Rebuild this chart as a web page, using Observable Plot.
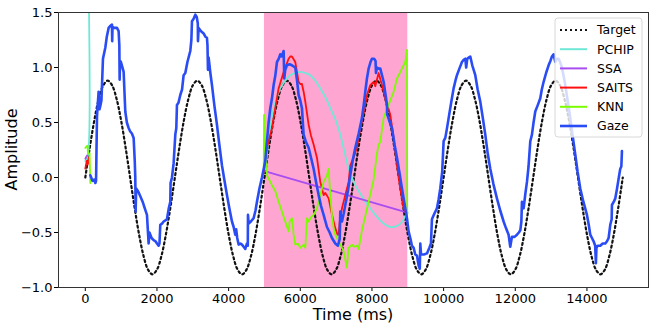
<!DOCTYPE html>
<html><head><meta charset="utf-8">
<script src="https://cdn.jsdelivr.net/npm/d3@7"></script>
<script src="https://cdn.jsdelivr.net/npm/@observablehq/plot@0.6"></script>
<style>body{margin:0;background:#fff;} svg{display:block}</style>
</head><body><div id="chart"></div>
<script>
// ---- data ----
const xTicks = [0, 2000, 4000, 6000, 8000, 10000, 12000, 14000];
const yTicks = [-1, -0.5, 0, 0.5, 1, 1.5];
const xDomain = [-748, 15718];
const yDomain = [-1, 1.5];
const gapStart = [5000];
const gapEnd = [9000];
const seriesNames = ["Target", "PCHIP", "SSA", "SAITS", "KNN", "Gaze"];
const seriesColors = ["#111111", "#6fe8d8", "#a84ef0", "#ff1010", "#7cfc00", "#2a4cf5"];

const targetStep = 125; // ms between target samples
const targetValues = [
  0, .272, .517, .712, .837, .88, .837, .712, .517, .272, 0, -.272, -.517, -.712, -.837, -.88, -.837, -.712, -.517, -.272,
  0, .272, .517, .712, .837, .88, .837, .712, .517, .272, 0, -.272, -.517, -.712, -.837, -.88, -.837, -.712, -.517, -.272,
  0, .272, .517, .712, .837, .88, .837, .712, .517, .272, 0, -.272, -.517, -.712, -.837, -.88, -.837, -.712, -.517, -.272,
  0, .272, .517, .712, .837, .88, .837, .712, .517, .272, 0, -.272, -.517, -.712, -.837, -.88, -.837, -.712, -.517, -.272,
  0, .272, .517, .712, .837, .88, .837, .712, .517, .272, 0, -.272, -.517, -.712, -.837, -.88, -.837, -.712, -.517, -.272,
  0, .272, .517, .712, .837, .88, .837, .712, .517, .272, 0, -.272, -.517, -.712, -.837, -.88, -.837, -.712, -.517, -.272,
  0
];

const pchipStart = [[0, 0.15], [70, 0.2], [75, 2.0]];
const pchipGap = [[4980, 0.05], [5023, 0.08], [5100, 0.30], [5180, 0.50], [5256, 0.63], [5350, 0.73], [5442, 0.81],
  [5580, 0.88], [5721, 0.93], [5860, 0.95], [6000, 0.96], [6140, 0.95], [6279, 0.93], [6420, 0.88], [6558, 0.81],
  [6700, 0.73], [6837, 0.63], [6977, 0.53], [7070, 0.44], [7163, 0.33], [7256, 0.20], [7349, 0.08], [7440, 0.0],
  [7535, -0.07], [7680, -0.15], [7814, -0.22], [7950, -0.28], [8093, -0.34], [8230, -0.39], [8372, -0.43],
  [8500, -0.45], [8605, -0.45], [8700, -0.44], [8791, -0.42], [8870, -0.39], [8930, -0.35], [8990, -0.32]];

const ssaStart = [[0, 0.17], [50, 0.2]];
const ssaGap = [[4980, 0.06], [8990, -0.32]];

const saitsStart = [[0, 0.08], [40, 0.15], [70, 0.12], [100, 0.18]];
const saitsGap = [[4980, 0.05], [5070, 0.27], [5209, 0.45], [5302, 0.63], [5395, 0.81], [5535, 0.96], [5674, 1.08],
  [5720, 1.10], [5767, 1.10], [5860, 1.05], [5953, 0.87], [6000, 0.85], [6046, 0.85], [6093, 0.78], [6140, 0.69],
  [6233, 0.48], [6300, 0.38], [6372, 0.30], [6465, 0.18], [6558, -0.04], [6651, -0.16], [6698, -0.14], [6791, -0.19],
  [6884, -0.34], [6977, -0.46], [7040, -0.52], [7070, -0.52], [7100, -0.40], [7163, -0.28], [7256, -0.16],
  [7349, -0.04], [7395, 0.11], [7488, 0.18], [7581, 0.27], [7650, 0.40], [7721, 0.51], [7860, 0.75], [7953, 0.84],
  [8047, 0.87], [8093, 0.83], [8186, 0.95], [8279, 0.84], [8372, 0.72], [8512, 0.57], [8605, 0.36], [8698, 0.11],
  [8791, -0.10], [8884, -0.28], [8977, -0.34]];

const knnStart = [[0, 0.27], [60, 0.29], [75, 0.22], [120, 0.22], [140, -0.05]];
const knnGap = [[4980, 0.10], [4990, 0.57], [5023, 0.27], [5070, 0.02], [5130, -0.02], [5209, -0.07], [5300, -0.12],
  [5395, -0.22], [5488, -0.31], [5581, -0.40], [5674, -0.49], [5700, -0.40], [5767, -0.37], [5814, -0.52],
  [5860, -0.61], [5930, -0.60], [6000, -0.64], [6093, -0.61], [6140, -0.64], [6186, -0.37], [6233, -0.40],
  [6300, -0.36], [6372, -0.34], [6465, -0.28], [6558, -0.16], [6651, -0.04], [6744, 0.02], [6791, 0.08],
  [6837, -0.16], [6884, -0.34], [6930, -0.46], [6977, -0.52], [7070, -0.58], [7209, -0.67], [7302, -0.82],
  [7349, -0.64], [7442, -0.61], [7488, -0.63], [7581, -0.62], [7628, -0.65], [7721, -0.48], [7814, -0.35],
  [7907, -0.22], [8047, -0.02], [8140, 0.22], [8186, 0.30], [8230, 0.32], [8326, 0.54], [8465, 0.66], [8605, 0.78],
  [8698, 0.90], [8837, 0.99], [8930, 1.05], [8977, 1.16], [8985, -0.34]];

const gaze = [[140, 0.02], [200, -0.03], [250, -0.02], [280, -0.05], [300, -0.03], [326, 0.55], [340, 0.63],
  [372, 0.78], [395, 0.62], [419, 0.65], [450, 0.70], [493, 1.08], [558, 1.18], [600, 1.28], [651, 1.36],
  [700, 1.38], [744, 1.39], [750, 1.24], [760, 1.37], [800, 1.36], [884, 1.36], [930, 1.33], [950, 1.2],
  [958, 0.89], [970, 1.06], [995, 1.05], [1070, 0.96], [1116, 0.60], [1160, 0.5], [1209, 0.45], [1250, 0.42],
  [1300, 0.40], [1349, 0.36], [1380, 0.15], [1395, 0.0], [1405, -0.31], [1420, -0.10], [1480, -0.13],
  [1535, -0.17], [1600, -0.22], [1660, -0.28], [1721, -0.34], [1767, -0.60], [1790, -0.50], [1850, -0.55],
  [1907, -0.57], [1960, -0.58], [2000, -0.60], [2046, -0.62], [2070, -0.60], [2093, -0.43], [2140, -0.42],
  [2186, -0.40], [2279, -0.38], [2330, -0.28], [2372, -0.22], [2380, -0.05], [2419, 0.0], [2465, 0.13],
  [2512, 0.39], [2540, 0.45], [2558, 0.66], [2600, 0.68], [2651, 0.75], [2700, 0.80], [2744, 0.93], [2791, 0.95],
  [2850, 1.05], [2930, 1.15], [2960, 1.25], [2977, 1.42], [3020, 1.44], [3070, 1.48], [3110, 1.46], [3140, 1.40],
  [3144, 1.24], [3163, 1.36], [3230, 1.33], [3302, 1.31], [3350, 1.28], [3395, 1.27], [3410, 1.2], [3423, 0.98],
  [3442, 1.09], [3490, 0.95], [3535, 0.84], [3600, 0.66], [3674, 0.48], [3740, 0.30], [3814, 0.11], [3880, -0.02],
  [3954, -0.16], [4020, -0.28], [4093, -0.40], [4140, -0.45], [4186, -0.52], [4210, -0.47], [4240, -0.55],
  [4279, -0.61], [4330, -0.60], [4372, -0.61], [4420, -0.63], [4465, -0.65], [4510, -0.60], [4535, -0.62],
  [4540, -0.34], [4558, -0.42], [4620, -0.40], [4698, -0.37], [4750, -0.30], [4791, -0.22], [4860, -0.10],
  [4930, 0.0], [4980, 0.08], [5023, 0.15], [5070, 0.33], [5116, 0.50], [5163, 0.63], [5210, 0.72], [5256, 0.84],
  [5300, 0.92], [5349, 1.05], [5400, 1.08], [5440, 1.12], [5480, 1.10], [5535, 1.15], [5553, 0.90], [5580, 0.98],
  [5628, 1.02], [5700, 1.03], [5767, 1.02], [5860, 1.0], [5910, 0.88], [5953, 0.75], [6000, 0.70], [6046, 0.63],
  [6093, 0.39], [6150, 0.33], [6233, 0.27], [6300, 0.18], [6372, 0.08], [6440, -0.04], [6512, -0.16],
  [6580, -0.26], [6651, -0.34], [6744, -0.45], [6820, -0.50], [6884, -0.55], [6977, -0.60], [7050, -0.62],
  [7100, -0.56], [7116, -0.31], [7163, -0.40], [7210, -0.33], [7256, -0.25], [7330, -0.12], [7395, 0.02],
  [7460, 0.15], [7535, 0.27], [7630, 0.40], [7721, 0.54], [7770, 0.66], [7814, 0.78], [7860, 0.90], [7907, 0.99],
  [7960, 1.05], [8000, 1.08], [8060, 1.08], [8100, 1.06], [8112, 0.95], [8140, 1.0], [8190, 0.99], [8233, 0.99],
  [8280, 0.93], [8326, 0.87], [8380, 0.75], [8419, 0.66], [8425, 0.57], [8440, 0.56], [8500, 0.50], [8558, 0.45],
  [8630, 0.30], [8698, 0.18], [8770, 0.04], [8837, -0.10], [8910, -0.24], [8977, -0.37], [9023, -0.49],
  [9070, -0.55], [9116, -0.62], [9163, -0.64], [9209, -0.70], [9256, -0.71], [9302, -0.80], [9335, -0.83],
  [9349, -0.60], [9370, -0.70], [9450, -0.70], [9535, -0.69], [9600, -0.64], [9647, -0.60], [9674, -0.38],
  [9740, -0.33], [9814, -0.28], [9860, -0.20], [9907, -0.10], [9960, 0.05], [10000, 0.33], [10047, 0.36],
  [10090, 0.44], [10140, 0.54], [10210, 0.68], [10279, 0.81], [10330, 0.88], [10372, 0.93], [10440, 0.99],
  [10512, 1.05], [10560, 1.07], [10605, 1.08], [10630, 1.0], [10660, 1.08], [10700, 1.09], [10744, 1.10],
  [10800, 1.02], [10884, 0.93], [10950, 0.80], [11023, 0.69], [11090, 0.55], [11163, 0.39], [11230, 0.22],
  [11302, 0.08], [11390, -0.06], [11488, -0.19], [11580, -0.30], [11674, -0.40], [11740, -0.46], [11814, -0.52],
  [11860, -0.63], [11907, -0.54], [11980, -0.54], [12047, -0.52], [12100, -0.50], [12140, -0.48], [12170, -0.40],
  [12186, -0.22], [12233, -0.28], [12280, -0.15], [12326, -0.04], [12370, 0.10], [12419, 0.33], [12465, 0.39],
  [12510, 0.50], [12558, 0.60], [12630, 0.66], [12698, 0.72], [12740, 0.80], [12791, 0.87], [12860, 0.95],
  [12930, 1.02], [12980, 1.06], [13023, 1.10], [13070, 1.12], [13116, 1.05], [13160, 1.08], [13209, 1.08],
  [13260, 1.04], [13302, 1.0], [13350, 0.92], [13395, 0.84], [13460, 0.70], [13535, 0.54], [13600, 0.38],
  [13674, 0.21], [13740, 0.05], [13814, -0.10], [13900, -0.22], [14000, -0.34], [14050, -0.43], [14093, -0.52],
  [14140, -0.55], [14186, -0.58], [14230, -0.62], [14250, -0.78], [14265, -0.64], [14300, -0.62], [14372, -0.62],
  [14440, -0.60], [14512, -0.60], [14560, -0.58], [14605, -0.55], [14651, -0.43], [14690, -0.38], [14698, -0.25],
  [14750, -0.22], [14791, -0.19], [14840, -0.10], [14884, -0.01], [14930, 0.08], [14960, 0.10], [14977, 0.24]];

// ---- build rows ----
const rows = (pairs, seg) => pairs.map(([t, v]) => ({t, v, seg}));
const gapRows = gapStart.map((s, i) => ({start: s, end: gapEnd[i]}));
const targetRows = targetValues.map((v, i) => ({t: i * targetStep, v}));
const pchipRows = rows(pchipStart, "a").concat(rows(pchipGap, "b"));
const ssaRows = rows(ssaStart, "a").concat(rows(ssaGap, "b"));
const saitsRows = rows(saitsStart, "a").concat(rows(saitsGap, "b"));
const knnRows = rows(knnStart, "a").concat(rows(knnGap, "b"));
const gazeRows = rows(gaze, "a");

const dotted = "2,3";
const lineOpts = (color, w, extra = {}) => Object.assign({x: "t", y: "v", z: "seg", stroke: color, strokeWidth: w,
  strokeLinejoin: "round", clip: true}, extra);

const plot = Plot.plot({
  width: 655, height: 330,
  marginLeft: 58, marginRight: 7, marginTop: 12, marginBottom: 43,
  style: {fontFamily: "DejaVu Sans", fontSize: "13px", color: "#000", background: "#fff"},
  x: {domain: xDomain, ticks: xTicks, tickFormat: d3.format("d"), tickSize: 4, tickPadding: 2, label: null},
  y: {domain: yDomain, ticks: yTicks, tickFormat: d3.format(".1f"), tickSize: 4, tickPadding: 2, label: null},
  marks: [
    Plot.rect(gapRows, {x1: "start", x2: "end", fill: "#ff69b4", fillOpacity: 0.6}),
    Plot.line(targetRows, {x: "t", y: "v", stroke: seriesColors[0], strokeWidth: 2.2, strokeDasharray: dotted, curve: "catmull-rom", clip: true}),
    Plot.line(pchipRows, lineOpts(seriesColors[1], 1.8, {curve: "catmull-rom"})),
    Plot.line(ssaRows, lineOpts(seriesColors[2], 1.8)),
    Plot.line(saitsRows, lineOpts(seriesColors[3], 1.8)),
    Plot.line(knnRows, lineOpts(seriesColors[4], 1.8)),
    Plot.line(gazeRows, lineOpts(seriesColors[5], 2.6)),
    Plot.frame({stroke: "#333"})
  ]
});

const svg = d3.select(plot);
// axis titles
svg.append("text").attr("x", (58 + 648) / 2).attr("y", 320).attr("text-anchor", "middle")
  .attr("font-size", 16).attr("font-family", "DejaVu Sans").attr("fill", "#000").text("Time (ms)");
svg.append("text").attr("transform", "translate(17," + ((12 + 287) / 2) + ") rotate(-90)").attr("text-anchor", "middle")
  .attr("font-size", 16).attr("font-family", "DejaVu Sans").attr("fill", "#000").text("Amplitude");

// legend
const lg = svg.append("g");
lg.append("rect").attr("x", 555).attr("y", 18).attr("width", 87).attr("height", 119).attr("rx", 3)
  .attr("fill", "#fff").attr("fill-opacity", 0.8).attr("stroke", "#d8d8d8");
seriesNames.forEach((name, i) => {
  const y = 30 + i * 19.2;
  const ln = lg.append("line").attr("x1", 560).attr("x2", 587).attr("y1", y).attr("y2", y)
    .attr("stroke", seriesColors[i]).attr("stroke-width", i === 5 ? 2.6 : 2);
  if (i === 0) ln.attr("stroke-dasharray", dotted).attr("stroke-width", 2.2);
  lg.append("text").attr("x", 597).attr("y", y).attr("dy", "0.35em").attr("font-size", 12.5)
    .attr("text-anchor", "start").attr("font-family", "DejaVu Sans").attr("fill", "#000").text(name);
});

document.getElementById("chart").appendChild(plot);
</script>
</body></html>
